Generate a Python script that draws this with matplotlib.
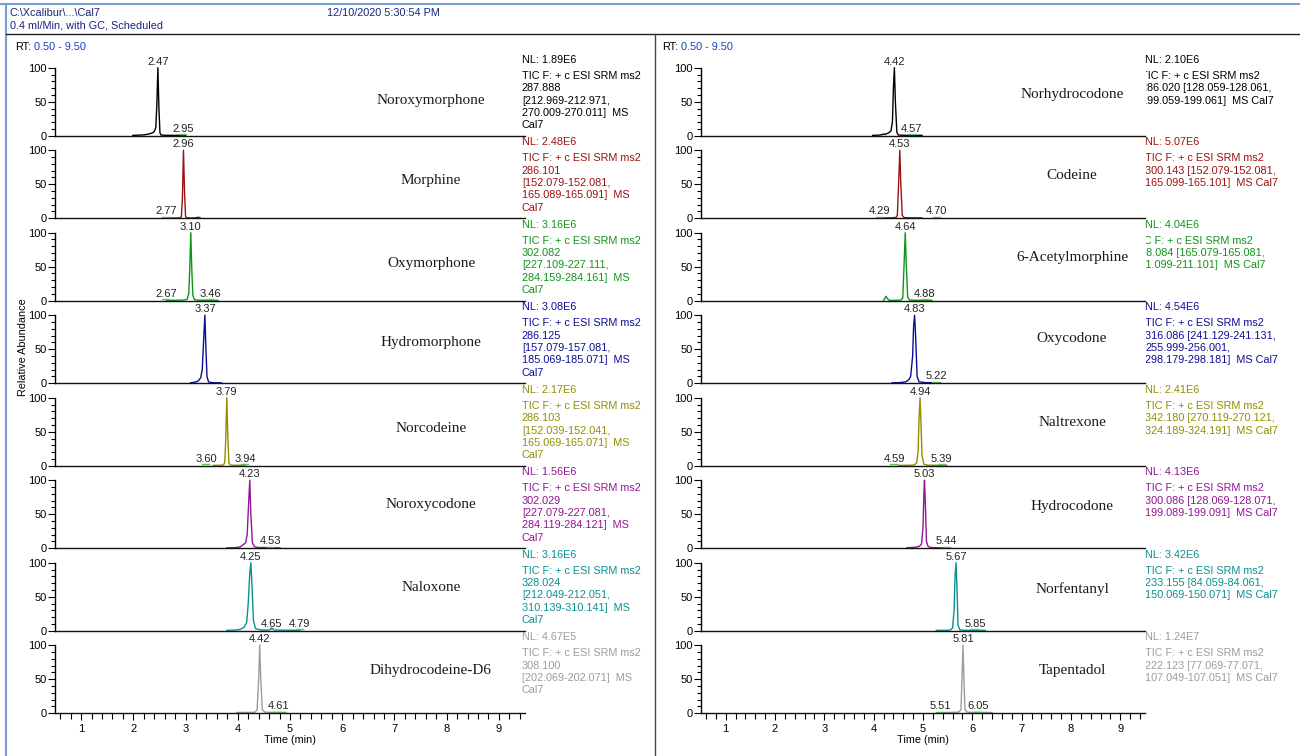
import matplotlib
matplotlib.use("Agg")
import matplotlib.pyplot as plt
from matplotlib.ticker import MultipleLocator
from matplotlib.transforms import Bbox, TransformedBbox

plt.rcParams["font.family"] = ["Liberation Sans", "DejaVu Sans"]

# ---- header text ----
header_path = "C:\\Xcalibur\\...\\Cal7"
header_date = "12/10/2020 5:30:54 PM"
header_method = "0.4 ml/Min, with GC, Scheduled"
rt_range = "0.50 - 9.50"
tic_line = "TIC F: + c ESI SRM ms2"

trace_colors = ["#000000", "#9a1111", "#11931a", "#0c0c96",
                "#8f8f00", "#921592", "#0b8f8f", "#9c9c9c"]

# ---- left column ----
left_names = ["Noroxymorphone", "Morphine", "Oxymorphone", "Hydromorphone",
              "Norcodeine", "Noroxycodone", "Naloxone", "Dihydrocodeine-D6"]
left_nl = ["1.89E6", "2.48E6", "3.16E6", "3.08E6", "2.17E6", "1.56E6", "3.16E6", "4.67E5"]
left_info = [
    ["287.888", "[212.969-212.971,", "270.009-270.011]  MS", "Cal7"],
    ["286.101", "[152.079-152.081,", "165.089-165.091]  MS", "Cal7"],
    ["302.082", "[227.109-227.111,", "284.159-284.161]  MS", "Cal7"],
    ["286.125", "[157.079-157.081,", "185.069-185.071]  MS", "Cal7"],
    ["286.103", "[152.039-152.041,", "165.069-165.071]  MS", "Cal7"],
    ["302.029", "[227.079-227.081,", "284.119-284.121]  MS", "Cal7"],
    ["328.024", "[212.049-212.051,", "310.139-310.141]  MS", "Cal7"],
    ["308.100", "[202.069-202.071]  MS", "Cal7"],
]
left_times = [
    [1.99, 2.10, 2.20, 2.30, 2.36, 2.40, 2.43, 2.45, 2.47, 2.49, 2.51, 2.53, 2.60, 2.80, 2.95, 3.00],
    [2.69, 2.80, 2.88, 2.92, 2.94, 2.96, 2.98, 3.00, 3.02, 3.10, 3.20, 3.25, 3.28],
    [2.63, 2.80, 2.95, 3.03, 3.06, 3.08, 3.10, 3.12, 3.14, 3.17, 3.25, 3.45, 3.62],
    [3.09, 3.18, 3.24, 3.29, 3.32, 3.35, 3.37, 3.39, 3.41, 3.44, 3.50, 3.69],
    [3.53, 3.65, 3.72, 3.75, 3.77, 3.79, 3.81, 3.83, 3.86, 3.95, 4.14],
    [3.79, 3.95, 4.05, 4.10, 4.15, 4.18, 4.21, 4.23, 4.25, 4.28, 4.32, 4.40, 4.60, 4.81],
    [3.79, 3.95, 4.05, 4.12, 4.17, 4.20, 4.23, 4.25, 4.27, 4.30, 4.34, 4.45, 4.60, 4.63,
     4.65, 4.67, 4.70, 4.85, 5.19],
    [3.98, 4.20, 4.33, 4.37, 4.40, 4.42, 4.44, 4.47, 4.52, 4.70, 4.92],
]
left_abund = [
    [0.5, 0.8, 1.2, 2.5, 4, 6, 12, 45, 100, 40, 4, 1, 0.6, 0.5, 0.8, 0.5],
    [0.3, 0.3, 0.4, 2, 30, 100, 40, 3, 0.5, 0.4, 0.8, 1.5, 0.5],
    [0.5, 0.6, 0.8, 2, 10, 45, 100, 45, 8, 1.5, 0.8, 0.6, 0.5],
    [0.5, 1.5, 3, 8, 20, 70, 100, 50, 10, 2, 0.8, 0.5],
    [0.5, 0.6, 1, 4, 40, 100, 40, 4, 1, 0.6, 0.5],
    [0.5, 0.8, 2, 5, 8, 20, 70, 100, 50, 8, 2, 1, 0.8, 0.5],
    [0.5, 1, 2, 5, 12, 40, 85, 100, 70, 15, 3, 1, 1, 3, 4, 3, 1, 0.8, 0.5],
    [1, 1.2, 1.5, 5, 50, 100, 50, 5, 1.5, 1.2, 1],
]
# first entry = main peak, the rest are small labelled peaks
left_labels = [
    ["2.47", "2.95"], ["2.96", "2.77"], ["3.10", "2.67", "3.46"], ["3.37"],
    ["3.79", "3.60", "3.94"], ["4.23", "4.53"], ["4.25", "4.65", "4.79"], ["4.42", "4.61"],
]

# ---- right column ----
right_names = ["Norhydrocodone", "Codeine", "6-Acetylmorphine", "Oxycodone",
               "Naltrexone", "Hydrocodone", "Norfentanyl", "Tapentadol"]
right_nl = ["2.10E6", "5.07E6", "4.04E6", "4.54E6", "2.41E6", "4.13E6", "3.42E6", "1.24E7"]
right_info = [
    ["286.020 [128.059-128.061,", "199.059-199.061]  MS Cal7"],
    ["300.143 [152.079-152.081,", "165.099-165.101]  MS Cal7"],
    ["328.084 [165.079-165.081,", "211.099-211.101]  MS Cal7"],
    ["316.086 [241.129-241.131,", "255.999-256.001,", "298.179-298.181]  MS Cal7"],
    ["342.180 [270.119-270.121,", "324.189-324.191]  MS Cal7"],
    ["300.086 [128.069-128.071,", "199.089-199.091]  MS Cal7"],
    ["233.155 [84.059-84.061,", "150.069-150.071]  MS Cal7"],
    ["222.123 [77.069-77.071,", "107.049-107.051]  MS Cal7"],
]
right_times = [
    [3.98, 4.10, 4.17, 4.20, 4.23, 4.30, 4.35, 4.38, 4.40, 4.42, 4.44, 4.47, 4.50, 4.60, 4.98],
    [4.16, 4.35, 4.45, 4.48, 4.51, 4.53, 4.55, 4.58, 4.62, 4.75, 4.98],
    [4.20, 4.23, 4.25, 4.28, 4.32, 4.45, 4.55, 4.59, 4.62, 4.64, 4.66, 4.69, 4.73, 4.90, 5.18],
    [4.37, 4.55, 4.65, 4.71, 4.75, 4.79, 4.81, 4.83, 4.85, 4.88, 4.92, 5.05, 5.35],
    [4.50, 4.70, 4.82, 4.87, 4.90, 4.92, 4.94, 4.96, 4.98, 5.02, 5.10, 5.30, 5.48],
    [4.67, 4.85, 4.93, 4.97, 5.00, 5.02, 5.03, 5.05, 5.07, 5.10, 5.15, 5.30, 5.48],
    [5.27, 5.45, 5.55, 5.60, 5.63, 5.65, 5.67, 5.69, 5.71, 5.75, 5.85, 6.26],
    [5.40, 5.60, 5.72, 5.77, 5.79, 5.81, 5.83, 5.85, 5.90, 6.10, 6.40],
]
right_abund = [
    [0.5, 0.8, 1.5, 2.5, 2, 4, 7, 20, 70, 100, 50, 5, 1, 0.6, 0.5],
    [0.5, 0.5, 1, 4, 60, 100, 50, 4, 0.8, 0.6, 0.5],
    [0.5, 4, 6.5, 3, 0.5, 0.5, 0.8, 4, 60, 100, 55, 5, 1, 0.6, 0.5],
    [0.5, 1, 2, 5, 10, 40, 85, 100, 70, 10, 2, 0.8, 0.5],
    [0.5, 0.6, 1, 4, 20, 70, 100, 60, 15, 2, 0.8, 0.6, 0.5],
    [0.5, 1.5, 3, 6, 30, 85, 100, 60, 10, 3, 1, 0.6, 0.5],
    [0.5, 0.5, 0.8, 4, 30, 80, 100, 60, 8, 1, 0.6, 0.5],
    [1, 1.2, 1.5, 5, 50, 100, 50, 5, 1.5, 1.2, 1],
]
right_labels = [
    ["4.42", "4.57"], ["4.53", "4.29", "4.70"], ["4.64", "4.88"], ["4.83", "5.22"],
    ["4.94", "4.59", "5.39"], ["5.03", "5.44"], ["5.67", "5.85"], ["5.81", "5.51", "6.05"],
]

# ---- layout ----
W, H = 1300, 756
BASE0 = 135.7      # y pixel of the 0 line of the first panel
STEP = 82.5        # distance between panels
PH = 68            # pixel height 0..100
left_name_y = [52, 56, 55, 60, 55, 65, 63, 63]
right_name_y = [60, 63, 64, 65, 63, 62, 61, 63]
# where the small-peak labels sit on the time axis (placed to avoid overlap)
left_label_x = [[2.95], [2.62], [2.63, 3.47], [], [3.39, 4.14], [4.63], [4.65, 5.19], [4.78]]
right_label_x = [[4.77], [4.12, 5.28], [5.04], [5.27], [4.42, 5.38], [5.48], [6.06], [5.35, 6.12]]


def fx(x):
    return x / W


def fy(y):
    return 1 - y / H


fig = plt.figure(figsize=(13, 7.56), dpi=100)

# frame lines
fig.add_artist(plt.Line2D([0, 1], [fy(3.5), fy(3.5)], color="#7a9fd4", lw=1.5))
fig.add_artist(plt.Line2D([fx(6), fx(6)], [fy(3.5), 0], color="#7a9fd4", lw=1.5))
fig.add_artist(plt.Line2D([fx(6), 1], [fy(34), fy(34)], color="#222222", lw=1))
fig.add_artist(plt.Line2D([fx(655), fx(655)], [fy(34), 0], color="#444444", lw=1))

hdr_color = "#1a237e"
fig.text(fx(10), fy(13), header_path, fontsize=7.8, color=hdr_color, va="center")
fig.text(fx(327), fy(13), header_date, fontsize=7.8, color=hdr_color, va="center")
fig.text(fx(10), fy(26), header_method, fontsize=7.8, color=hdr_color, va="center")

columns = [
    dict(x0=55, x1=525, tx=522, nx=431, rtx=15, names=left_names, nl=left_nl,
         info=left_info, times=left_times, ab=left_abund, labels=left_labels,
         lx=left_label_x, ny=left_name_y, clip=None, shift=[0] * 8),
    dict(x0=701, x1=1145, tx=1145, nx=1072, rtx=662, names=right_names, nl=right_nl,
         info=right_info, times=right_times, ab=right_abund, labels=right_labels,
         lx=right_label_x, ny=right_name_y, clip=1146, shift=[-4, 0, -11.5, 0, 0, 0, 0, 0]),
]

for col in columns:
    fig.text(fx(col["rtx"]), fy(47), "RT:", fontsize=7.8, color="black", va="center")
    fig.text(fx(col["rtx"] + 19), fy(47), rt_range, fontsize=7.8, color="#1f3fbf", va="center")
    clip_box = None
    if col["clip"] is not None:
        clip_box = TransformedBbox(Bbox([[fx(col["clip"]), 0], [1, 1]]), fig.transFigure)

    for k in range(8):
        base = BASE0 + k * STEP
        color = trace_colors[k]
        last = k == 7
        ax = fig.add_axes([fx(col["x0"]), fy(base), (col["x1"] - col["x0"]) / W, PH / H])
        ax.patch.set_visible(False)
        ax.plot(col["times"][k], col["ab"][k], color=color, lw=1, clip_on=False)
        ax.set_xlim(0.5, 9.5)
        ax.set_ylim(0, 100)
        for s in ["top", "right"]:
            ax.spines[s].set_visible(False)
        ax.spines["left"].set_linewidth(1)
        ax.spines["bottom"].set_linewidth(1)
        ax.spines["bottom"].set_color("#111111")
        ax.set_yticks([0, 50, 100])
        ax.set_yticklabels(["0", "50", "100"])
        ax.yaxis.set_minor_locator(MultipleLocator(10))
        ax.tick_params(axis="y", which="major", length=5, width=0.8, labelsize=8, pad=1)
        ax.tick_params(axis="y", which="minor", length=3, width=0.8)
        if last:
            ax.xaxis.set_major_locator(MultipleLocator(1))
            ax.xaxis.set_minor_locator(MultipleLocator(0.2))
            ax.tick_params(axis="x", which="major", length=5, width=0.8, labelsize=8, pad=3)
            ax.tick_params(axis="x", which="minor", length=4, width=0.8)
        else:
            ax.tick_params(axis="x", which="both", bottom=False, labelbottom=False)

        # peak labels: main peak above its apex, small peaks near the baseline
        labels = col["labels"][k]
        ax.text(float(labels[0]), 101.5, labels[0], ha="center", va="bottom", fontsize=8,
                color="#222222", clip_on=False)
        for lab, x in zip(labels[1:], col["lx"][k]):
            ax.plot([x - 0.08, x + 0.06], [2, 2], color="#66c266", lw=1, clip_on=False)
            ax.text(x, 3, lab, ha="center", va="bottom", fontsize=8,
                    color="#222222", clip_on=False)

        # compound name
        fig.text(fx(col["nx"]), fy(base - col["ny"][k] * PH / 100), col["names"][k],
                 family=["Liberation Serif", "DejaVu Serif"], fontsize=11,
                 ha="center", va="center", color="#1a1a1a")

        # scan info text
        fig.text(fx(col["tx"]), fy(base - 76), "NL: " + col["nl"][k], fontsize=7.8,
                 color=color, va="center")
        lines = [tic_line] + col["info"][k]
        for i, line in enumerate(lines):
            t = fig.text(fx(col["tx"] + col["shift"][k]), fy(base - 60 + i * 12.4), line,
                         fontsize=7.8, color=color, va="center")
            if clip_box is not None:
                t.set_clip_box(clip_box)
                t.set_clip_on(True)

    fig.text(fx((col["x0"] + col["x1"]) / 2), fy(740), "Time (min)", fontsize=7.8,
             ha="center", va="center")

fig.text(fx(23), fy(347), "Relative Abundance", fontsize=7.8, rotation=90,
         ha="center", va="center")

fig.savefig("out.png", dpi=100)
